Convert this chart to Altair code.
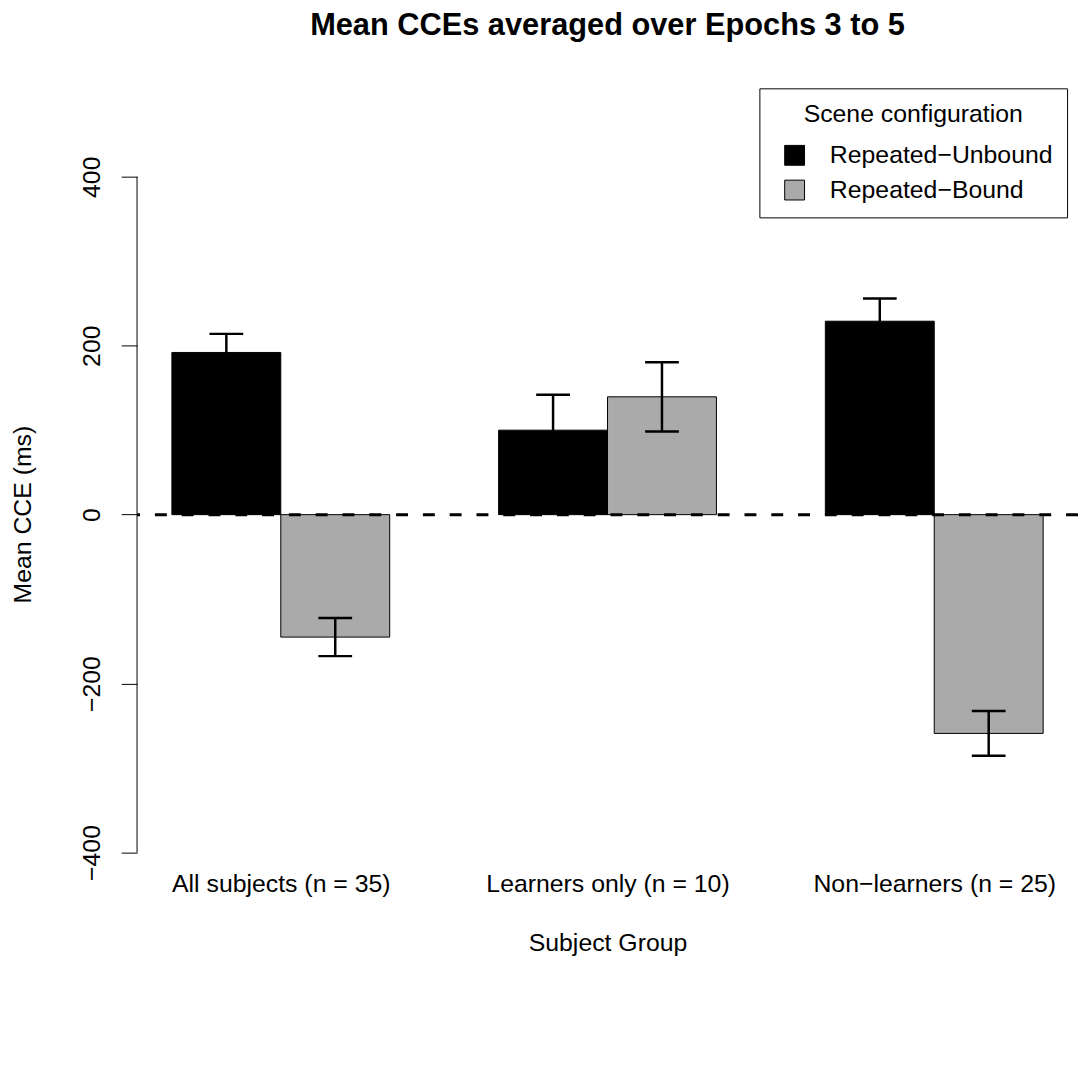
import json
import altair as alt
import pandas as pd

# ---- data ----
groups = ["All subjects (n = 35)", "Learners only (n = 10)", "Non\u2212learners (n = 25)"]
configs = ["Repeated\u2212Unbound", "Repeated\u2212Bound"]
unbound_mean = [192, 100, 229]
unbound_se = [22, 42, 27]
bound_mean = [-145, 139.5, -259]
bound_se = [22.5, 41, 26.5]
y_ticks = [-400, -200, 0, 200, 400]
colors = ["#000000", "#AAAAAA"]

FONT = "Liberation Sans"
FS = 25

# R barplot(beside=TRUE) layout: bar width 1, one empty unit between groups
rows = []
for gi, g in enumerate(groups):
    means = [unbound_mean[gi], bound_mean[gi]]
    ses = [unbound_se[gi], bound_se[gi]]
    for ci, c in enumerate(configs):
        left = 1 + gi * 3 + ci
        rows.append(dict(group=g, config=c, x0=left, x1=left + 1, xc=left + 0.5,
                         mean=means[ci], lo=means[ci] - ses[ci], hi=means[ci] + ses[ci]))
df = pd.DataFrame(rows)
centers = [2 + 3 * i for i in range(len(groups))]

xscale = alt.Scale(domain=[0.68, 9.32], nice=False, zero=False)
yscale = alt.Scale(domain=[-406, 500], nice=False, zero=False)

label_expr = json.dumps(groups) + "[round((datum.value - 2) / 3)]"

xaxis = alt.Axis(values=centers, labelExpr=label_expr, domain=False, ticks=False, tickSize=0,
                 grid=False, labelFontSize=FS, labelColor="black", labelBaseline="alphabetic",
                 labelPadding=34, labelFont=FONT, labelOverlap=False, labelLimit=500,
                 title="Subject Group", titleFontSize=FS, titleFontWeight="normal", titleFont=FONT,
                 titleColor="black", titleBaseline="alphabetic", titleY=94)
yaxis = alt.Axis(values=y_ticks, domain=False, grid=False, tickSize=16, tickWidth=1, tickColor="black",
                 labelAngle=270, labelAlign="center", labelBaseline="alphabetic", labelPadding=22,
                 labelFontSize=FS, labelColor="black", labelFont=FONT, labelOverlap=False,
                 title="Mean CCE (ms)", titleFontSize=FS, titleFontWeight="normal", titleFont=FONT,
                 titleColor="black", titleAngle=270, titleAlign="center", titleBaseline="alphabetic",
                 titleX=-107, titleY=425)

base = alt.Chart(df)

bars = base.mark_bar(stroke="black", strokeWidth=1, opacity=1).encode(
    x=alt.X("x0:Q", scale=xscale, axis=xaxis),
    x2="x1:Q",
    y=alt.Y("mean:Q", scale=yscale, axis=yaxis),
    y2=alt.datum(0),
    fill=alt.Fill("config:N", scale=alt.Scale(domain=configs, range=colors),
                  legend=alt.Legend(title="Scene configuration", orient="none", legendX=627, legendY=-4,
                                    direction="vertical")),
)

err = base.mark_rule(color="black", strokeWidth=2.5).encode(
    x="xc:Q", y="lo:Q", y2="hi:Q"
)
cap_lo = base.mark_tick(color="black", orient="horizontal", size=34, thickness=2.5, opacity=1).encode(
    x="xc:Q", y="lo:Q"
)
cap_hi = base.mark_tick(color="black", orient="horizontal", size=34, thickness=2.5, opacity=1).encode(
    x="xc:Q", y="hi:Q"
)

zero_line = alt.Chart(pd.DataFrame({"v": [0]})).mark_rule(
    color="black", strokeWidth=3, strokeDash=[12, 15]
).encode(y="v:Q")

axis_line = alt.Chart(pd.DataFrame({"x": [0.68], "lo": [y_ticks[0]], "hi": [y_ticks[-1]]})).mark_rule(
    color="black", strokeWidth=1
).encode(x="x:Q", y="lo:Q", y2="hi:Q")

chart = alt.layer(bars, err, cap_lo, cap_hi, zero_line, axis_line).properties(
    width=948,
    height=771,
    autosize=alt.AutoSizeParams(type="none"),
    padding={"left": 130, "top": 81, "right": 0, "bottom": 200},
    title=alt.TitleParams("Mean CCEs averaged over Epochs 3 to 5", fontSize=31, fontWeight="bold",
                          font=FONT, anchor="middle", frame="group", baseline="alphabetic",
                          offset=22.5, color="black"),
).configure(font=FONT).configure_view(strokeWidth=0).configure_legend(
    strokeColor="black", strokeWidth=1, fillColor="white", padding=14,
    titleFontSize=FS, titleFontWeight="normal", titleFont=FONT, titleColor="black",
    titleAnchor="middle", titleAlign="center", titlePadding=16, titleLimit=600,
    labelFontSize=FS, labelFont=FONT, labelColor="black", labelOffset=23, labelLimit=600,
    symbolType="square", symbolSize=400, symbolStrokeColor="black", symbolStrokeWidth=1,
    symbolOffset=9, symbolOpacity=1, rowPadding=9,
)

chart.save("out.html", embed_options={"renderer": "svg", "actions": False})
